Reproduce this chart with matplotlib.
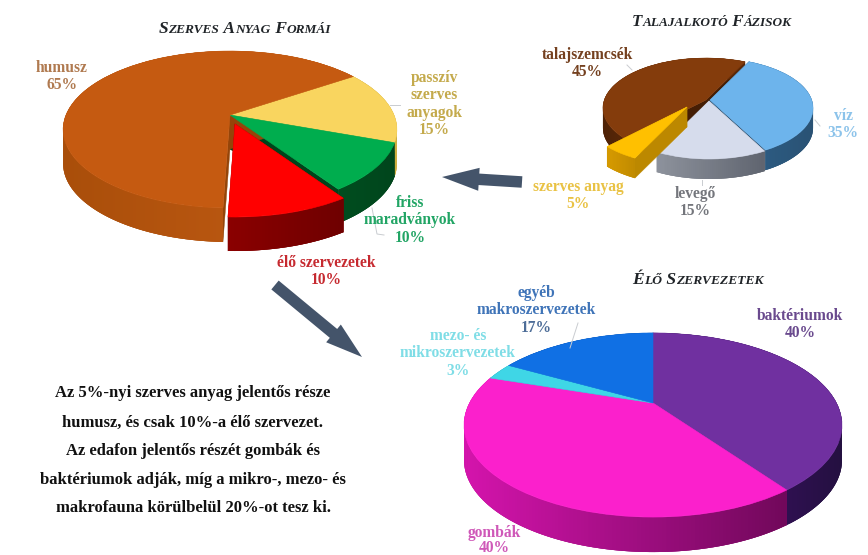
import numpy as np
import matplotlib
matplotlib.use("Agg")
import matplotlib.pyplot as plt
from matplotlib.collections import PolyCollection
from matplotlib.colors import to_rgb
from matplotlib.patches import FancyArrow, Polygon
from matplotlib.transforms import Transform

# Organic matter forms
forms_labels = ["passzív\nszerves\nanyagok", "friss\nmaradványok", "élő szervezetek", "humusz"]
forms_values = [15, 10, 10, 65]
forms_top = ["#f9d55f", "#00ad4e", "#ff0000", "#c55a11"]
forms_side = [("#b89a3a", "#d0b040"), ("#004d1f", "#00451c"), ("#8a0000", "#6e0000"), ("#a94e0a", "#b85610")]

# Soil-forming phases
phases_labels = ["víz", "levegő", "szerves anyag", "talajszemcsék"]
phases_values = [35, 15, 5, 45]
phases_top = ["#6db4ec", "#d6dcec", "#ffc000", "#843c0c"]
phases_side = [("#2c5a80", "#2a5274"), ("#8d929c", "#5f646f"), ("#d69a00", "#c08a00"), ("#4e2206", "#5a2808")]

# Living organisms
living_labels = ["baktériumok", "gombák", "mezo- és\nmikroszervezetek", "egyéb\nmakroszervezetek"]
living_values = [40, 40, 3, 17]
living_top = ["#7030a0", "#fb20cc", "#3fd6e6", "#1070e4"]
living_side = [("#2e1050", "#241040"), ("#d414ac", "#70085a"), ("#2098a8", "#2098a8"), ("#0a4a9c", "#0a4a9c")]

SERIF = "Liberation Serif"


class Tilt(Transform):
    """Perspective view of the unit disc, giving pixel positions."""
    input_dims = output_dims = 2
    is_affine = False

    def __init__(self, hub, a, b, p, drop=0.0):
        super().__init__()
        self.hub, self.a, self.b, self.p, self.drop = hub, a, b, p, drop

    def transform_non_affine(self, values):
        values = np.asarray(values, dtype=float)
        x, down = values[:, 0], -values[:, 1]
        w = 1 - self.p * down
        return np.column_stack([self.hub[0] + self.b * x / w,
                                self.hub[1] + self.drop + self.a * down / w])


def mix(c0, c1, t):
    c0, c1 = np.array(to_rgb(c0)), np.array(to_rgb(c1))
    return tuple((1 - t) * c0 + t * c1)


def pie3d(ax, values, start, top, side, hub, a, b, p, depth, shifts, groups):
    """Extruded pie; slices of a higher group are painted over lower groups."""
    wedges, _ = ax.pie(values, startangle=start, counterclock=False, colors=top,
                       labeldistance=None,
                       wedgeprops={"linewidth": 0.4, "antialiased": True})
    for i, w in enumerate(wedges):
        base = 4 * groups[i]
        w.set_edgecolor(top[i])
        sx, sy = shifts[i]
        here = (hub[0] + sx, hub[1] + sy)
        upper = Tilt(here, a, b, p)
        lower = Tilt(here, a, b, p, depth)
        t = np.radians(np.linspace(w.theta1, w.theta2, max(3, int(w.theta2 - w.theta1) + 2)))
        rim = np.column_stack([np.cos(t), np.sin(t)])
        up, lo = upper.transform_non_affine(rim), lower.transform_non_affine(rim)

        # radial faces of the slice, seen where a neighbour has been pulled out
        c = np.zeros((1, 2))
        hub_u, hub_l = upper.transform_non_affine(c)[0], lower.transform_non_affine(c)[0]
        wall = mix(side[i][0], "#000000", 0.12)
        ax.add_collection(PolyCollection(
            [[hub_u, up[0], lo[0], hub_l], [hub_u, up[-1], lo[-1], hub_l]],
            facecolors=wall, edgecolors=wall, linewidths=0.3, zorder=base + 1))

        # curved outer face: a solid base, then overlapping strips shaded along the screen
        ax.add_patch(Polygon(np.vstack([up, lo[::-1]]), closed=True, linewidth=0,
                             facecolor=mix(side[i][0], side[i][1], 0.5), zorder=base + 1.5))
        front = rim[:, 1] < 0.3
        xs = up[:, 0]
        lo_x, hi_x = (xs[front].min(), xs[front].max()) if front.sum() > 1 else (xs.min(), xs.max())
        quads, cols = [], []
        for k in range(len(t) - 1):
            j = min(k + 2, len(t) - 1)
            quads.append([up[k], up[j], lo[j], lo[k]])
            f = np.clip((xs[k] - lo_x) / max(hi_x - lo_x, 1), 0, 1)
            cols.append(mix(side[i][0], side[i][1], f))
        ax.add_collection(PolyCollection(quads, facecolors=cols, edgecolors="none",
                                         linewidths=0, zorder=base + 2))
        w.set_transform(upper + ax.transData)
        w.set_zorder(base + 3)


def small_caps(ax, fig, cx, y, text, big=12.5, small=9.6):
    """Bold italic small capitals, centred on cx."""
    renderer = fig.canvas.get_renderer()
    runs, buf, is_upper = [], "", None
    for ch in text:
        up = ch.isupper() or ch == " "
        if is_upper is None or up == is_upper:
            buf += ch
        else:
            runs.append((buf, is_upper))
            buf = ch
        is_upper = up
    runs.append((buf, is_upper))
    items, width = [], 0
    for s, up in runs:
        shown = s.upper()
        t = ax.text(0, y, shown.replace(" ", "\u00a0"), family=SERIF, weight="bold", style="italic",
                    fontsize=big if up else small, color="#202428", va="baseline", ha="left", zorder=60)
        wd = t.get_window_extent(renderer).width
        items.append((t, wd))
        width += wd
    x = cx - width / 2
    for t, wd in items:
        t.set_x(x)
        x += wd


fig = plt.figure(figsize=(8.68, 5.55), dpi=100, facecolor="white")
ax = fig.add_axes([0, 0, 1, 1])

pie3d(ax, forms_values, 34, forms_top, forms_side, (230, 115), 75.8, 164, 0.185, 34,
      [(0, 0), (0, 0), (5, 9), (0, 0)], [0, 0, 1, 0])
pie3d(ax, phases_values, 64, phases_top, phases_side, (710, 100), 48.7, 101.7, 0.16, 20,
      [(0, 0), (-1, 1), (-23, 7), (-4, 0)], [1, 1, 2, 0])
pie3d(ax, living_values, 90, living_top, living_side, (653, 403), 86.8, 183.5, 0.239, 35,
      [(0, 0), (0, 0), (0, 0), (0, 0)], [0, 0, 0, 0])

ax.set_aspect("auto")
ax.set_xlim(0, 868)
ax.set_ylim(555, 0)
ax.axis("off")

small_caps(ax, fig, 245, 33, "Szerves Anyag Formái")
small_caps(ax, fig, 712, 26, "Talajalkotó Fázisok", big=12.2, small=9.5)
small_caps(ax, fig, 698, 284, "Élő Szervezetek", big=12.6, small=9.7)


def label(x, y, name, pct, color, step=17.3, pct_color=None):
    lines = name.split("\n")
    for n, line in enumerate(lines):
        ax.text(x, y + n * step, line, ha="center", va="center", family=SERIF, weight="bold",
                fontsize=11.2, color=color, zorder=60)
    ax.text(x, y + len(lines) * step, f"{pct}%", ha="center", va="center", family=SERIF,
            weight="bold", fontsize=11.2, color=pct_color or color, zorder=60)


label(434, 78, forms_labels[0], forms_values[0], "#c4aa4c")
label(410, 203, forms_labels[1], forms_values[1], "#22a565")
label(326, 263, forms_labels[2], forms_values[2], "#c62a30")
label(62, 68, forms_labels[3], forms_values[3], "#b07a50")

label(843, 116, phases_labels[0], phases_values[0], "#8cc3ea")
label(695, 194, phases_labels[1], phases_values[1], "#74767c")
label(578, 187, phases_labels[2], phases_values[2], "#e9c244")
label(587, 55, phases_labels[3], phases_values[3], "#74401f")

label(800, 316, living_labels[0], living_values[0], "#6a4a8e")
label(494, 533, living_labels[1], living_values[1], "#cf58b8", step=15.5)
label(458, 336, living_labels[2], living_values[2], "#7fdde6")
label(536, 293, living_labels[3], living_values[3], "#3f74b8", pct_color="#4d6d98")

# leader lines from labels to slices
leader_x = [(390, 400), (372, 377, 384), (627, 632), (815, 820), (702, 702), (570, 578)]
leader_y = [(105, 105), (208, 234, 235), (65, 70), (120, 126), (180, 185), (348, 323)]
for lx, ly in zip(leader_x, leader_y):
    ax.plot(lx, ly, color="#c9ccd0", lw=0.7, zorder=55)

# arrows linking the charts
arrow_color = "#44546a"
for x0, y0, x1, y1 in [(522, 182, 442, 177), (275, 285, 362, 357)]:
    ax.add_patch(FancyArrow(x0, y0, x1 - x0, y1 - y0, width=11.5, head_width=23, head_length=37,
                            length_includes_head=True, color=arrow_color, linewidth=0, zorder=50))

body_lines = ["Az 5%-nyi szerves anyag jelentős része",
              "humusz, és csak 10%-a élő szervezet.",
              "Az edafon jelentős részét gombák és",
              "baktériumok adják, míg a mikro-, mezo- és",
              "makrofauna körülbelül 20%-ot tesz ki."]
for yy, line in zip([393, 423, 451, 480, 508], body_lines):
    ax.text(193, yy, line, ha="center", va="center", family=SERIF, weight="bold",
            fontsize=12, color="#111111", zorder=60)

fig.savefig("out.png", dpi=100)
